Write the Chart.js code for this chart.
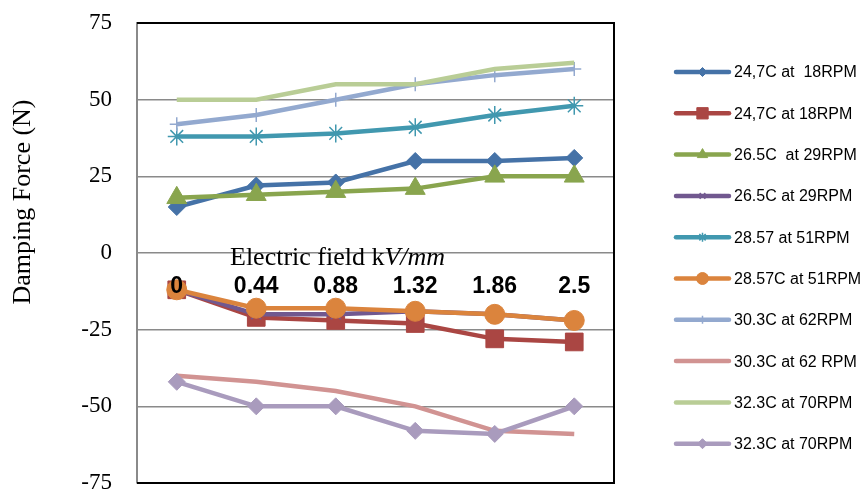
<!DOCTYPE html>
<html><head><meta charset="utf-8">
<script src="https://cdn.jsdelivr.net/npm/chart.js@4.4.0/dist/chart.umd.min.js"></script>
<style>html,body{margin:0;padding:0;background:#fff}</style>
</head><body>
<canvas id="c" width="864" height="493"></canvas>
<script>
const categories = ['0', '0.44', '0.88', '1.32', '1.86', '2.5'];
const seriesNames = ['24,7C at  18RPM', '24,7C at 18RPM', '26.5C  at 29RPM', '26.5C at 29RPM', '28.57 at 51RPM',
  '28.57C at 51RPM', '30.3C at 62RPM', '30.3C at 62 RPM', '32.3C at 70RPM', '32.3C at 70RPM'];
const s1 = [15, 22, 23, 30, 30, 31];
const s2 = [-12, -21, -22, -23, -28, -29];
const s3 = [18, 19, 20, 21, 25, 25];
const s4 = [-12, -20, -20, -19, -20, -22];
const s5 = [38, 38, 39, 41, 45, 48];
const s6 = [-12, -18, -18, -19, -20, -22];
const s7 = [42, 45, 50, 55, 58, 60];
const s8 = [-40, -42, -45, -50, -58, -59];
const s9 = [50, 50, 55, 55, 60, 62];
const s10 = [-42, -50, -50, -58, -59, -50];
const yTicks = [-75, -50, -25, 0, 25, 50, 75];
const xTitle = ['Electric field k', 'V/mm'];
const yTitle = 'Damping Force (N)';

const seriesValues = [s1, s2, s3, s4, s5, s6, s7, s8, s9, s10];
const colors = ['#4572A7', '#AA4643', '#89A54E', '#71588F', '#4198AF', '#DB843D', '#93A9CF', '#D19392', '#B9CD96', '#A99BBD'];
const styles = [
  {ps: 'rectRot', r: 8.5, bw: 1, lr: 4.5},
  {ps: 'rect', r: 12.5, bw: 1, lr: 8},
  {ps: 'triangle', r: 11.5, bw: 1, lr: 6},
  {ps: 'crossRot', r: 7, bw: 1.5, lr: 4},
  {ps: 'star', r: 9, bw: 1.5, lr: 4.5},
  {ps: 'circle', r: 10, bw: 1, lr: 6},
  {ps: 'cross', r: 7, bw: 1.5, lr: 4},
  {ps: false, r: 0, bw: 0, lr: 0},
  {ps: false, r: 0, bw: 0, lr: 0},
  {ps: 'rectRot', r: 8.5, bw: 1, lr: 5}
];

const datasets = seriesValues.map((vals, i) => ({
  label: seriesNames[i],
  data: vals,
  borderColor: colors[i],
  backgroundColor: colors[i],
  borderWidth: 4.5,
  pointStyle: styles[i].ps || 'circle',
  pointRadius: styles[i].r,
  pointHoverRadius: styles[i].r,
  pointBorderWidth: styles[i].bw,
  pointBackgroundColor: colors[i],
  pointBorderColor: colors[i],
  tension: 0,
  fill: false,
  order: 10 - i
}));

const extras = {
  id: 'extras',
  afterDraw(chart) {
    const ctx = chart.ctx;
    const ca = chart.chartArea;
    ctx.save();
    // plot border
    ctx.strokeStyle = '#000';
    ctx.lineWidth = 2;
    ctx.beginPath();
    ctx.moveTo(ca.left, ca.top);
    ctx.lineTo(ca.right, ca.top);
    ctx.lineTo(ca.right, ca.bottom);
    ctx.lineTo(ca.left, ca.bottom);
    ctx.stroke();
    // x title
    const zeroY = chart.scales.y.getPixelForValue(0);
    ctx.fillStyle = '#000';
    ctx.textBaseline = 'alphabetic';
    ctx.textAlign = 'left';
    ctx.font = '26px "Liberation Serif"';
    let tx = ca.left + 93;
    ctx.fillText(xTitle[0], tx, zeroY + 12);
    tx += ctx.measureText(xTitle[0]).width;
    ctx.font = 'italic 26px "Liberation Serif"';
    ctx.fillText(xTitle[1], tx, zeroY + 12);
    // y title
    ctx.save();
    ctx.translate(23, 202);
    ctx.rotate(-Math.PI / 2);
    ctx.textAlign = 'center';
    ctx.textBaseline = 'middle';
    ctx.font = '26px "Liberation Serif"';
    ctx.fillText(yTitle, 0, 0);
    ctx.restore();
    // legend
    chart.data.datasets.forEach((ds, i) => {
      const y = 72 + i * 41.3;
      ctx.strokeStyle = ds.borderColor;
      ctx.lineWidth = 4.5;
      ctx.lineCap = 'round';
      ctx.beginPath();
      ctx.moveTo(676, y);
      ctx.lineTo(729, y);
      ctx.stroke();
      if (styles[i].ps && Chart.helpers && Chart.helpers.drawPoint) {
        ctx.fillStyle = ds.borderColor;
        ctx.strokeStyle = ds.borderColor;
        ctx.lineWidth = styles[i].bw;
        ctx.lineCap = 'butt';
        Chart.helpers.drawPoint(ctx, {pointStyle: styles[i].ps, radius: styles[i].lr, borderWidth: styles[i].bw, rotation: 0}, 702.5, y);
      }
      ctx.fillStyle = '#000';
      ctx.font = '16px "Liberation Sans"';
      ctx.textAlign = 'left';
      ctx.textBaseline = 'middle';
      ctx.fillText(ds.label, 734, y + 1);
    });
    ctx.restore();
  }
};

new Chart(document.getElementById('c'), {
  type: 'line',
  data: {labels: categories, datasets},
  options: {
    responsive: false,
    animation: false,
    events: [],
    layout: {autoPadding: false, padding: {left: 0, right: 250, top: 23, bottom: 10}},
    plugins: {legend: {display: false}, tooltip: {enabled: false}, title: {display: false}},
    scales: {
      x: {
        type: 'category',
        position: {y: 0},
        offset: true,
        afterFit(scale) { scale.height = 0; scale.paddingTop = 0; scale.paddingBottom = 0; },
        grid: {display: false, drawTicks: false},
        border: {display: false},
        ticks: {
          z: 1,
          color: '#000',
          padding: 20,
          maxRotation: 0,
          autoSkip: false,
          font: {family: 'Liberation Sans', size: 23, weight: 'bold'}
        }
      },
      y: {
        min: -75, max: 75,
        afterFit(scale) { scale.width = 137; scale.paddingTop = 0; scale.paddingBottom = 0; },
        afterBuildTicks(scale) { scale.ticks = yTicks.map(v => ({value: v})); },
        grid: {color: '#8a8a8a', lineWidth: 1.5, drawTicks: true, tickLength: 25, tickColor: 'rgba(0,0,0,0)'},
        border: {display: true, color: '#8a8a8a', width: 2},
        ticks: {
          color: '#000',
          padding: 0,
          font: {family: 'Liberation Serif', size: 23}
        }
      }
    }
  },
  plugins: [extras]
});
</script>
</body></html>
